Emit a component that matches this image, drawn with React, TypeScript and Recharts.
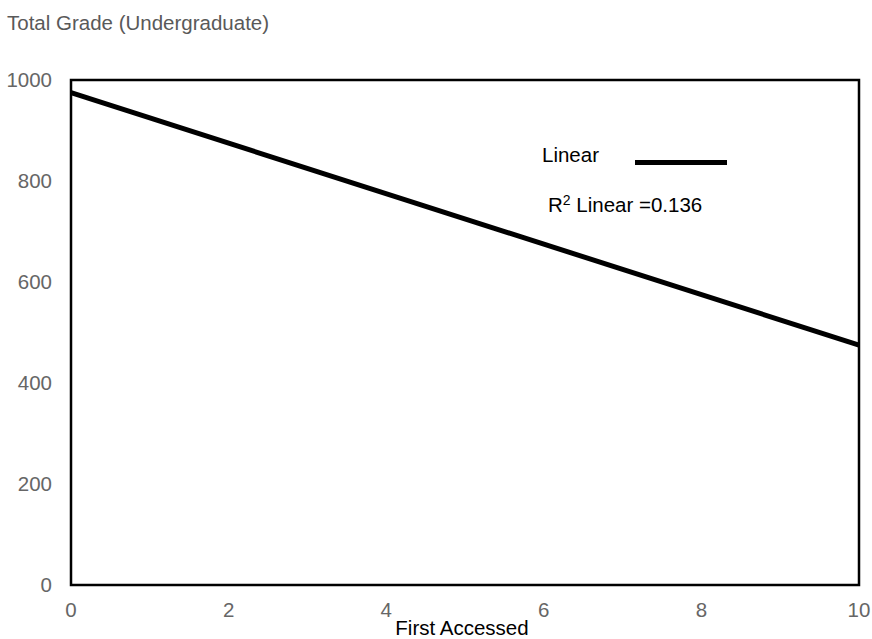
import { LineChart, Line, XAxis, YAxis, ReferenceArea, Customized } from 'recharts'

const firstAccessed = [0, 10]
const totalGrade = [975, 475]
const xTicks = [0, 2, 4, 6, 8, 10]
const yTicks = [0, 200, 400, 600, 800, 1000]
const rSquared = '0.136'

const data = firstAccessed.map((x, i) => ({ x, y: totalGrade[i] }))

const font = 'Arial, "Liberation Sans", sans-serif'

function Annotations() {
  return (
    <g fontFamily={font} fontSize={20.5}>
      <text x={7} y={30} fill="#595959">
        Total Grade (Undergraduate)
      </text>
      <text x={542} y={162} fill="#000">
        Linear
      </text>
      <line x1={635} x2={727} y1={162.5} y2={162.5} stroke="#000" strokeWidth={5} />
      <text x={548} y={212} fill="#000">
        R<tspan fontSize={14} dy={-7}>2</tspan>
        <tspan dy={7}> Linear =</tspan>
        {rSquared}
      </text>
      <text x={462} y={635} fill="#000" textAnchor="middle">
        First Accessed
      </text>
    </g>
  )
}

export default function App() {
  return (
    <div style={{ position: 'absolute', left: 0, top: 0, background: '#fff' }}>
      <LineChart
        width={872}
        height={639}
        data={data}
        margin={{ top: 80, right: 13, bottom: 0, left: 0 }}
      >
        <XAxis
          dataKey="x"
          type="number"
          domain={[0, 10]}
          ticks={xTicks}
          axisLine={false}
          tickLine={false}
          tickSize={0}
          tickMargin={17}
          height={54}
          tick={{ fill: '#666', fontSize: 20.5, fontFamily: font }}
        />
        <YAxis
          type="number"
          domain={[0, 1000]}
          ticks={yTicks}
          axisLine={false}
          tickLine={false}
          tickSize={0}
          tickMargin={19}
          width={71}
          tick={{ fill: '#666', fontSize: 20.5, fontFamily: font }}
        />
        <ReferenceArea
          x1={0}
          x2={10}
          y1={0}
          y2={1000}
          fill="none"
          stroke="#000"
          strokeWidth={2.5}
          ifOverflow="visible"
        />
        <Line
          dataKey="y"
          type="linear"
          stroke="#000"
          strokeWidth={5}
          dot={false}
          isAnimationActive={false}
        />
        <Customized component={Annotations} />
      </LineChart>
    </div>
  )
}
